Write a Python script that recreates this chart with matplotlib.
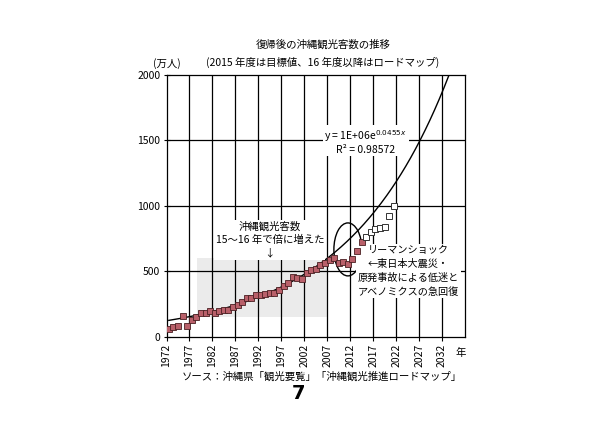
import numpy as np
import matplotlib
matplotlib.use('Agg')
import matplotlib.pyplot as plt
from matplotlib.patches import Ellipse, Rectangle

plt.rcParams['font.family'] = ['Noto Sans CJK JP', 'DejaVu Sans']

# actual visitors (万人), fiscal years 1972-2014
years_actual = list(range(1972, 2015))
visitors_actual = [55, 74, 80, 157, 84, 125, 153, 180, 178, 193, 183, 196,
                   200, 203, 228, 239, 266, 298, 299, 315, 320, 324, 331, 332,
                   356, 388, 413, 456, 452, 443, 483, 508, 515, 550, 564, 589,
                   605, 565, 571, 553, 590, 658, 725]

# 2015 target and roadmap 2016-2021
years_plan = list(range(2015, 2022))
visitors_plan = [760, 800, 820, 830, 840, 920, 1000]

# exponential trendline y = a * e^(b x), x = 1 for 1972
trend_a = 119
trend_b = 0.0455

tick_years = list(range(1972, 2033, 5))

fig = plt.figure(figsize=(6, 4.24), dpi=100)
ax = fig.add_axes([0.2775, 0.206, 0.4975, 0.617])

# shaded band behind the fast-growth period
ax.add_patch(Rectangle((1978.1, 150), 28.3, 450, facecolor='#ebebeb',
                       edgecolor='none', zorder=0))

for t in tick_years[1:]:
    ax.axvline(t - 0.5, color='black', lw=0.9, zorder=1)
for v in (500, 1000, 1500):
    ax.axhline(v, color='black', lw=0.9, zorder=1)

trend_x = np.linspace(1972, 2034, 300)
trend_y = trend_a * np.exp(trend_b * (trend_x - 1971))
ax.plot(trend_x, trend_y, color='black', lw=1.0, zorder=2)

ax.plot(years_actual, visitors_actual, linestyle='none', marker='s',
        markersize=3.8, markerfacecolor='#b9606a', markeredgecolor='#4a1f22',
        markeredgewidth=0.6, zorder=6)
ax.plot(years_plan, visitors_plan, linestyle='none', marker='s',
        markersize=3.8, markerfacecolor='white', markeredgecolor='#333333',
        markeredgewidth=0.7, zorder=6)

ax.add_patch(Ellipse((2011.0, 667), 6.1, 405, fill=False, edgecolor='black',
                     lw=1.0, zorder=4))

box = dict(facecolor='white', edgecolor='none', pad=1.0)
ax.text(2014.9, 1492, 'y = 1E+06e$^{0.0455x}$\nR² = 0.98572', ha='center',
        va='center', fontsize=7.5, linespacing=1.1, bbox=box, zorder=5)
ax.text(1994.0, 739, '沖縄観光客数\n15～16 年で倍に増えた\n↓', ha='center',
        va='center', fontsize=7.5, linespacing=1.45, bbox=box, zorder=5)
ax.text(2024.2, 502, 'リーマンショック\n←東日本大震災・\n原発事故による低迷と\nアベノミクスの急回復',
        ha='center', va='center', fontsize=7.3, linespacing=1.45, bbox=box,
        zorder=5)

ax.set_xlim(1971.5, 2036.5)
ax.set_ylim(0, 2000)
ax.set_yticks([0, 500, 1000, 1500, 2000])
ax.set_xticks([t - 0.5 for t in tick_years])
ax.set_xticklabels([str(t) for t in tick_years], rotation=90)
ax.tick_params(axis='both', labelsize=7.5, length=3, width=0.8,
               color='black')
ax.tick_params(axis='y', direction='inout', length=5, pad=2)
ax.tick_params(axis='x', direction='out', pad=2)
for s in ax.spines.values():
    s.set_linewidth(0.9)

fig.text(0.538, 0.894, '復帰後の沖縄観光客数の推移', ha='center', va='center',
         fontsize=7.5)
fig.text(0.538, 0.854, '(2015 年度は目標値、16 年度以降はロードマップ)',
         ha='center', va='center', fontsize=7.5)
fig.text(0.255, 0.851, '(万人)', ha='left', va='center', fontsize=7.5)
fig.text(0.768, 0.167, '年', ha='center', va='center', fontsize=7.5)
fig.text(0.77, 0.111, 'ソース：沖縄県「観光要覧」「沖縄観光推進ロードマップ」',
         ha='right', va='center', fontsize=7.5)
fig.text(0.497, 0.073, '7', ha='center', va='center', fontsize=14,
         fontweight='bold', family='DejaVu Sans')

fig.savefig('out.png', dpi=100)
